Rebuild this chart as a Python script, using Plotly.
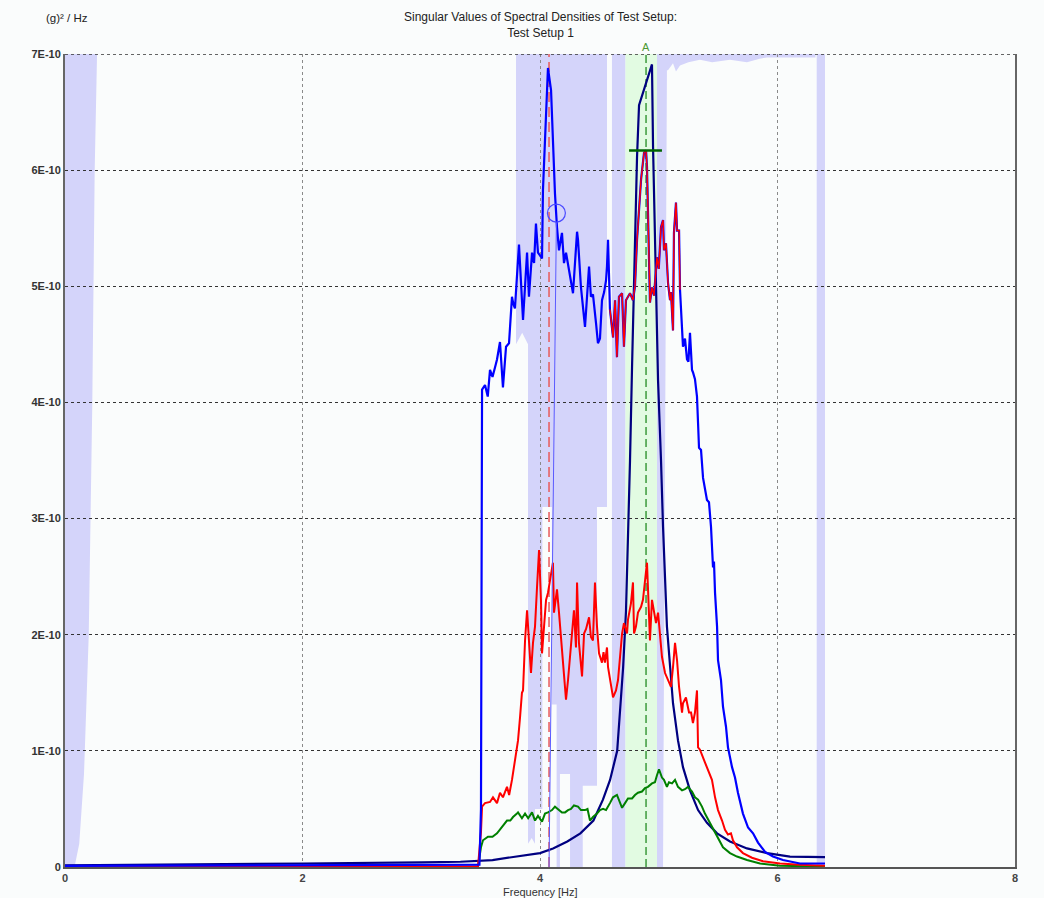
import plotly.graph_objects as go

# Singular value spectra: (frequency [Hz], value [1E-10 (g)^2/Hz])
sv1_points = [
    (0.0, 0.01), (1.0, 0.012), (2.0, 0.015), (3.0, 0.018), (3.49, 0.02), (3.503, 0.5),
    (3.512, 4.11), (3.537, 4.15), (3.56, 4.05), (3.579, 4.28), (3.6, 4.22), (3.621, 4.3),
    (3.638, 4.37), (3.663, 4.52), (3.688, 4.13), (3.714, 4.48), (3.739, 4.51), (3.764, 4.91),
    (3.775, 4.85), (3.789, 4.81), (3.823, 5.36), (3.857, 4.71), (3.891, 5.29), (3.907, 4.91),
    (3.933, 5.29), (3.95, 5.2), (3.966, 5.54), (3.983, 5.29), (4.017, 5.24), (4.025, 5.83),
    (4.05, 6.5), (4.067, 6.88), (4.093, 6.69), (4.109, 6.17), (4.126, 5.8), (4.143, 5.51),
    (4.16, 5.31), (4.185, 5.46), (4.202, 5.2), (4.219, 5.29), (4.244, 5.14), (4.261, 5.04),
    (4.278, 4.94), (4.312, 5.47), (4.32, 5.4), (4.345, 4.99), (4.362, 4.82), (4.379, 4.65),
    (4.396, 4.91), (4.413, 5.17), (4.429, 4.91), (4.446, 4.93), (4.472, 4.68), (4.488, 4.51),
    (4.505, 4.55), (4.522, 4.88), (4.54, 4.95), (4.556, 5.05), (4.564, 5.17), (4.573, 5.4),
    (4.589, 4.8), (4.615, 4.56), (4.632, 4.88), (4.648, 4.39), (4.665, 4.91), (4.691, 4.94),
    (4.707, 4.48), (4.724, 4.88), (4.741, 4.91), (4.758, 4.94), (4.783, 4.88), (4.80, 5.0),
    (4.817, 5.4), (4.834, 5.68), (4.851, 5.92), (4.876, 6.15), (4.893, 6.17), (4.901, 6.03),
    (4.909, 5.6), (4.918, 5.11), (4.926, 4.86), (4.943, 4.99), (4.96, 4.92), (4.985, 5.25),
    (5.0, 5.15), (5.019, 5.51), (5.036, 5.57), (5.044, 5.31), (5.061, 5.37), (5.078, 5.03),
    (5.095, 4.88), (5.103, 4.95), (5.12, 4.62), (5.128, 5.46), (5.145, 5.72), (5.154, 5.48),
    (5.171, 5.48), (5.179, 4.97), (5.196, 4.6), (5.204, 4.48), (5.221, 4.55), (5.238, 4.37),
    (5.25, 4.35), (5.263, 4.6), (5.28, 4.28), (5.288, 4.26), (5.305, 4.2), (5.322, 4.05),
    (5.331, 3.82), (5.339, 3.61), (5.356, 3.59), (5.373, 3.35), (5.406, 3.16), (5.423, 3.14),
    (5.44, 2.93), (5.457, 2.58), (5.465, 2.63), (5.474, 2.36), (5.491, 2.07), (5.499, 1.78),
    (5.524, 1.61), (5.541, 1.38), (5.566, 1.21), (5.583, 1.03), (5.617, 0.86), (5.642, 0.77),
    (5.667, 0.64), (5.709, 0.46), (5.752, 0.34), (5.794, 0.29), (5.836, 0.21), (5.895, 0.13),
    (5.962, 0.09), (6.046, 0.06), (6.189, 0.03), (6.4, 0.03),
]

sv2_points = [
    (0.0, 0.005), (3.478, 0.005), (3.503, 0.3), (3.512, 0.52), (3.537, 0.55), (3.579, 0.56),
    (3.604, 0.6), (3.638, 0.55), (3.663, 0.64), (3.688, 0.6), (3.722, 0.69), (3.74, 0.62),
    (3.764, 0.75), (3.789, 0.92), (3.815, 1.09), (3.832, 1.29), (3.848, 1.5), (3.857, 1.52),
    (3.874, 1.95), (3.891, 2.21), (3.907, 1.95), (3.924, 1.67), (3.941, 1.93), (3.958, 2.07),
    (3.975, 2.41), (3.992, 2.73), (4.008, 2.3), (4.017, 1.84), (4.034, 2.07), (4.051, 2.3),
    (4.067, 2.36), (4.093, 2.53), (4.109, 2.62), (4.118, 2.19), (4.143, 2.39), (4.16, 2.19),
    (4.185, 1.87), (4.202, 1.64), (4.219, 1.44), (4.236, 1.61), (4.269, 2.01), (4.286, 2.21),
    (4.303, 1.89), (4.312, 2.45), (4.328, 1.93), (4.354, 1.64), (4.371, 2.01), (4.388, 2.05),
    (4.413, 2.15), (4.429, 1.98), (4.446, 1.95), (4.463, 2.45), (4.48, 2.07), (4.497, 1.84),
    (4.522, 1.76), (4.535, 1.85), (4.547, 1.76), (4.564, 1.89), (4.573, 1.72), (4.598, 1.55),
    (4.615, 1.46), (4.64, 1.52), (4.657, 1.61), (4.691, 2.01), (4.707, 2.1), (4.733, 2.01),
    (4.741, 2.13), (4.766, 2.27), (4.783, 2.45), (4.792, 2.01), (4.808, 2.07), (4.825, 2.19),
    (4.851, 2.24), (4.867, 2.3), (4.884, 2.47), (4.901, 2.62), (4.909, 2.41), (4.926, 1.95),
    (4.943, 2.3), (4.96, 2.19), (4.977, 2.1), (4.994, 2.19), (5.011, 1.95), (5.027, 1.81),
    (5.053, 1.67), (5.078, 1.61), (5.103, 1.55), (5.12, 1.72), (5.137, 1.93), (5.154, 1.78),
    (5.171, 1.55), (5.196, 1.33), (5.204, 1.41), (5.229, 1.46), (5.255, 1.33), (5.272, 1.33),
    (5.288, 1.24), (5.305, 1.33), (5.322, 1.52), (5.331, 1.03), (5.347, 1.01), (5.389, 0.9),
    (5.415, 0.84), (5.448, 0.75), (5.474, 0.6), (5.499, 0.49), (5.533, 0.4), (5.558, 0.32),
    (5.583, 0.28), (5.608, 0.29), (5.625, 0.23), (5.659, 0.17), (5.709, 0.12), (5.785, 0.08),
    (5.878, 0.05), (6.021, 0.03), (6.189, 0.02), (6.4, 0.01),
]

sv3_points = [
    (0.0, 0.003), (3.478, 0.003), (3.503, 0.17), (3.52, 0.23), (3.562, 0.26), (3.6, 0.26),
    (3.638, 0.29), (3.663, 0.32), (3.688, 0.36), (3.722, 0.4), (3.75, 0.4), (3.773, 0.43),
    (3.806, 0.46), (3.815, 0.47), (3.848, 0.42), (3.874, 0.46), (3.9, 0.42), (3.933, 0.47),
    (3.958, 0.4), (3.983, 0.44), (4.017, 0.39), (4.042, 0.46), (4.067, 0.47), (4.101, 0.49),
    (4.126, 0.52), (4.16, 0.49), (4.185, 0.47), (4.211, 0.47), (4.236, 0.49), (4.261, 0.5),
    (4.286, 0.53), (4.32, 0.52), (4.345, 0.49), (4.379, 0.49), (4.40, 0.5), (4.421, 0.4),
    (4.446, 0.43), (4.48, 0.46), (4.505, 0.49), (4.531, 0.5), (4.556, 0.49), (4.589, 0.55),
    (4.615, 0.6), (4.648, 0.62), (4.665, 0.57), (4.691, 0.51), (4.716, 0.55), (4.741, 0.59),
    (4.775, 0.59), (4.80, 0.62), (4.825, 0.64), (4.859, 0.65), (4.884, 0.68), (4.909, 0.69),
    (4.943, 0.72), (4.968, 0.73), (4.985, 0.79), (5.002, 0.84), (5.027, 0.77), (5.044, 0.75),
    (5.069, 0.69), (5.086, 0.73), (5.112, 0.72), (5.137, 0.75), (5.162, 0.69), (5.196, 0.66),
    (5.221, 0.67), (5.246, 0.69), (5.28, 0.65), (5.305, 0.6), (5.331, 0.58), (5.364, 0.52),
    (5.389, 0.46), (5.415, 0.41), (5.457, 0.33), (5.499, 0.25), (5.541, 0.17), (5.6, 0.12),
    (5.659, 0.09), (5.743, 0.06), (5.853, 0.03), (6.021, 0.01), (6.4, 0.005),
]

# Fitted single-degree-of-freedom spectrum for mode A
sdof_points = [
    (0.0, 0.015), (1.0, 0.02), (2.0, 0.03), (3.0, 0.04), (3.33, 0.045), (3.6, 0.06),
    (3.89, 0.1), (4.0, 0.12), (4.11, 0.16), (4.23, 0.22), (4.34, 0.29), (4.45, 0.4),
    (4.53, 0.58), (4.59, 0.75), (4.65, 1.0), (4.674, 1.33), (4.70, 1.72), (4.724, 2.2),
    (4.741, 2.8), (4.758, 3.5), (4.775, 4.3), (4.80, 5.4), (4.817, 6.11), (4.834, 6.56),
    (4.943, 6.91), (4.952, 6.2), (4.968, 5.3), (4.985, 4.54), (4.994, 4.19), (5.019, 3.5),
    (5.036, 2.93), (5.069, 2.07), (5.095, 1.7), (5.12, 1.41), (5.162, 1.09), (5.204, 0.86),
    (5.263, 0.66), (5.331, 0.49), (5.406, 0.38), (5.491, 0.29), (5.6, 0.22), (5.743, 0.16),
    (5.912, 0.12), (6.105, 0.09), (6.4, 0.085),
]

# Frequency band of the selected peak (drawn in red on the first singular value)
peak_band = (4.589, 5.179)

# Peak pick and mode A cursor
pick_freq = 4.076
pick_circle = (4.138, 5.63)
mode_a_freq = 4.893
mode_a_level = 6.17
mode_a_span = (4.75, 5.027)

# Stabilisation shading: polygons (frequency, level)
shade_regions = [
    [(0.0, 0.0), (0.0, 7.0), (0.27, 7.0), (0.25, 6.0), (0.23, 4.0), (0.20, 2.0),
     (0.16, 0.8), (0.12, 0.2), (0.08, 0.0)],
    [(3.798, 7.0), (3.798, 4.5), (3.85, 4.6), (3.899, 4.5), (3.899, 0.2), (3.93, 0.25),
     (3.958, 0.2), (3.958, 0.5), (4.02, 0.5), (4.02, 3.1), (4.10, 3.1), (4.10, 1.4),
     (4.14, 1.4), (4.14, 0.0), (4.168, 0.0), (4.168, 0.8), (4.253, 0.8), (4.253, 0.0),
     (4.36, 0.0), (4.36, 0.7), (4.48, 0.7), (4.48, 3.1), (4.564, 3.1), (4.564, 7.0)],
    [(4.606, 0.0), (4.606, 7.0), (4.72, 7.0), (4.72, 0.0)],
    [(4.985, 0.0), (4.985, 7.0), (6.32, 7.0), (6.32, 6.97), (6.1, 6.97), (5.912, 6.97),
     (5.85, 6.96), (5.743, 6.93), (5.6, 6.95), (5.45, 6.93), (5.347, 6.95), (5.25, 6.93),
     (5.179, 6.9), (5.145, 6.85), (5.12, 6.92), (5.078, 6.86), (5.069, 6.86), (5.036, 0.0)],
    [(6.33, 0.0), (6.33, 7.0), (6.40, 7.0), (6.40, 0.0)],
]
mode_band = [(4.72, 0.0), (4.72, 7.0), (4.985, 7.0), (4.985, 0.0)]

y_ticks = [0, 1, 2, 3, 4, 5, 6, 7]
y_tick_text = ["0", "1E-10", "2E-10", "3E-10", "4E-10", "5E-10", "6E-10", "7E-10"]
x_ticks = [0, 2, 4, 6, 8]

SCALE = 1e-10
FONT = "Liberation Sans, Arial, sans-serif"
LAVENDER = "#d4d4fa"
MINT = "#e2fbe2"


def split(points):
    f = [p[0] for p in points]
    v = [p[1] * SCALE for p in points]
    return f, v


def poly_path(points):
    parts = [f"{f},{v * SCALE}" for f, v in points]
    return "M" + " L".join(parts) + " Z"


fig = go.Figure()

shapes = []
for region in shade_regions:
    shapes.append(dict(type="path", path=poly_path(region), xref="x", yref="y",
                       fillcolor=LAVENDER, line=dict(width=0), layer="below"))
shapes.append(dict(type="path", path=poly_path(mode_band), xref="x", yref="y",
                   fillcolor=MINT, line=dict(width=0), layer="below"))
# dotted top grid line at the range limit
shapes.append(dict(type="line", xref="x", yref="y", x0=0, x1=8,
                   y0=y_ticks[-1] * SCALE, y1=y_ticks[-1] * SCALE,
                   line=dict(color="#333", width=1.5, dash="dot"), layer="above"))

# cursor lines
fig.add_trace(go.Scatter(x=[pick_freq, pick_freq], y=[0, 7 * SCALE], mode="lines",
                         line=dict(color="#e85a5a", width=1.5, dash="10px,5px"),
                         hoverinfo="skip"))
fig.add_trace(go.Scatter(x=[mode_a_freq, mode_a_freq], y=[0, 7 * SCALE], mode="lines",
                         line=dict(color="#3c9a3c", width=1.5, dash="8px,4px"),
                         hoverinfo="skip"))

f, v = split(sdof_points)
fig.add_trace(go.Scatter(x=f, y=v, mode="lines", line=dict(color="#000080", width=2.2)))
f, v = split(sv3_points)
fig.add_trace(go.Scatter(x=f, y=v, mode="lines", line=dict(color="#008000", width=2)))
f, v = split(sv2_points)
fig.add_trace(go.Scatter(x=f, y=v, mode="lines", line=dict(color="#ff0000", width=2)))
f, v = split(sv1_points)
fig.add_trace(go.Scatter(x=f, y=v, mode="lines", line=dict(color="#0000ff", width=2.2)))

band_pts = [p for p in sv1_points if peak_band[0] <= p[0] <= peak_band[1]]
f, v = split(band_pts)
fig.add_trace(go.Scatter(x=f, y=v, mode="lines", line=dict(color="#ff0000", width=1.4)))

# peak pick marker and its leader line
fig.add_trace(go.Scatter(x=[pick_circle[0], pick_freq], y=[(pick_circle[1] - 0.08) * SCALE, 0],
                         mode="lines", line=dict(color="#5a5aff", width=1)))
fig.add_trace(go.Scatter(x=[pick_circle[0]], y=[pick_circle[1] * SCALE], mode="markers",
                         marker=dict(symbol="circle-open", size=18,
                                     line=dict(color="#4a4aff", width=1.2), color="#4a4aff")))

# mode A level indicator
fig.add_trace(go.Scatter(x=list(mode_a_span), y=[mode_a_level * SCALE] * 2, mode="lines",
                         line=dict(color="#006400", width=2.5)))

annotations = [
    dict(text="Singular Values of Spectral Densities of Test Setup:<br>Test Setup 1",
         xref="paper", yref="paper", x=0.5, y=1.0351, xanchor="center", yanchor="middle",
         showarrow=False, font=dict(family=FONT, size=12, color="#222")),
    dict(text="(g)² / Hz", xref="paper", yref="paper", x=-0.0221, y=1.0443,
         xanchor="left", yanchor="middle", showarrow=False,
         font=dict(family=FONT, size=11.5, color="#222")),
    dict(text="A", xref="x", yref="paper", x=mode_a_freq, y=1.0086,
         xanchor="center", yanchor="middle", showarrow=False,
         font=dict(family=FONT, size=11, color="#4c9a32")),
    dict(text="Frequency [Hz]", xref="paper", yref="paper", x=0.5, y=-0.0305,
         xanchor="center", yanchor="middle", showarrow=False,
         font=dict(family=FONT, size=11, color="#333")),
]

fig.update_layout(
    width=1044, height=898,
    margin=dict(l=65, r=29, t=54, b=31),
    paper_bgcolor="#fafcfc", plot_bgcolor="#fafcfc",
    showlegend=False,
    shapes=shapes,
    annotations=annotations,
    font=dict(family=FONT),
)
fig.update_xaxes(range=[0, 8], tickvals=x_ticks, ticktext=[str(t) for t in x_ticks],
                 showgrid=True, gridcolor="#8a8a8a", griddash="dot", gridwidth=1,
                 showline=True, linecolor="#555", linewidth=2, zeroline=False,
                 ticks="", ticklabelstandoff=0,
                 tickfont=dict(family=FONT, size=11, color="#444", weight="bold"))
fig.update_yaxes(range=[0, 7 * SCALE], tickvals=[t * SCALE for t in y_ticks],
                 ticktext=y_tick_text,
                 showgrid=True, gridcolor="#333", griddash="dot", gridwidth=1,
                 showline=True, linecolor="#666", linewidth=2, mirror=True, zeroline=False,
                 ticks="", tickfont=dict(family=FONT, size=11, color="#333", weight="bold"))

fig.write_html("out.html")
